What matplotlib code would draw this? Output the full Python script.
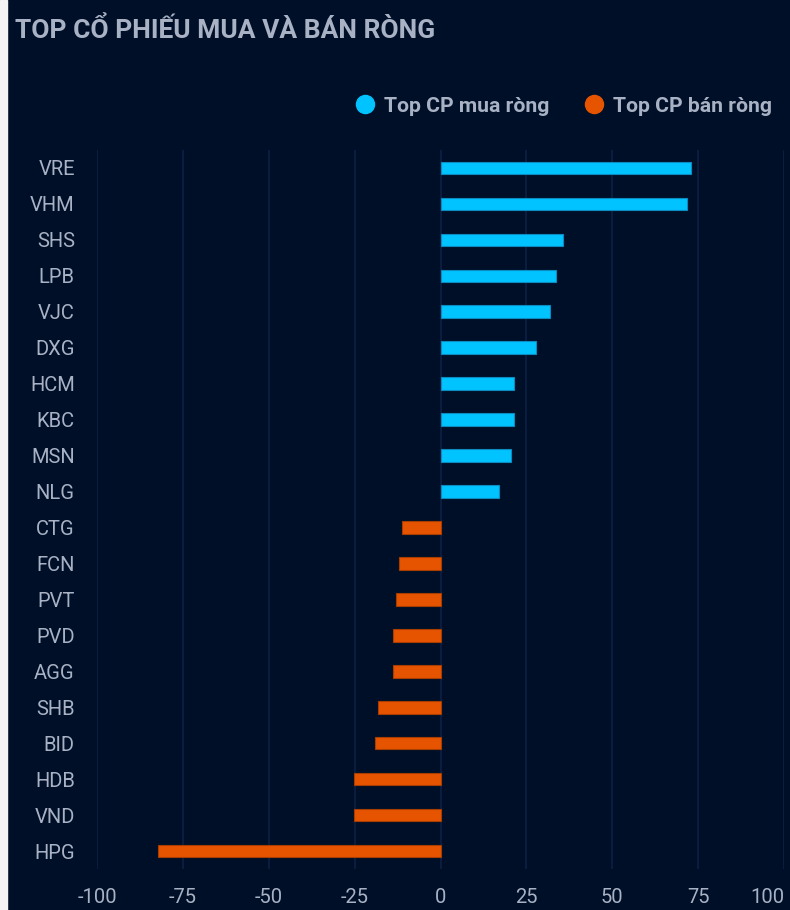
import matplotlib.pyplot as plt
from matplotlib.lines import Line2D
from matplotlib.patches import Rectangle

# data
buy_names = ['VRE', 'VHM', 'SHS', 'LPB', 'VJC', 'DXG', 'HCM', 'KBC', 'MSN', 'NLG']
buy_vals = [72.8, 71.7, 35.6, 33.7, 31.9, 27.7, 21.5, 21.5, 20.6, 16.9]
sell_names = ['CTG', 'FCN', 'PVT', 'PVD', 'AGG', 'SHB', 'BID', 'HDB', 'VND', 'HPG']
sell_vals = [-11.1, -12.1, -13.1, -13.9, -13.9, -18.2, -19.1, -25.3, -25.3, -82.3]
xticks = [-100, -75, -50, -25, 0, 25, 50, 75, 100]

bg = '#000f28'
txt = '#a9b2c4'
cyan = '#00c3ff'
orange = '#e65400'

plt.rcParams['font.family'] = ['Roboto', 'DejaVu Sans']

fig = plt.figure(figsize=(7.9, 9.1), dpi=100, facecolor=bg)
fig.patches.append(Rectangle((0, 0), 7/790, 1, transform=fig.transFigure,
                             color='#f4f4f4', zorder=0))

ax = fig.add_axes([97/790, 1-869/910, 687/790, 719/910])
ax.set_facecolor(bg)

names = buy_names + sell_names
n = len(names)
ypos = list(range(n))
ax.barh(ypos[:10], buy_vals, height=0.35, color=cyan, edgecolor='#0b8cc0', linewidth=0.8, zorder=3)
ax.barh(ypos[10:], sell_vals, height=0.35, color=orange, edgecolor='#a83d00', linewidth=0.8, zorder=3)

ax.set_ylim(n - 0.5, -0.5)
ax.set_xlim(-100, 100)
ax.set_yticks(ypos)
ax.set_yticklabels(names)
ax.set_xticks(xticks)
ax.set_xticklabels([str(v) for v in xticks])
ax.grid(axis='x', color='#0d2045', linewidth=1.2, zorder=0)
ax.set_axisbelow(True)
for s in ax.spines.values():
    s.set_visible(False)
ax.tick_params(axis='both', length=0, colors=txt, labelsize=14.5)
ax.tick_params(axis='y', pad=16)
ax.tick_params(axis='x', pad=14)
xl = ax.get_xticklabels()
xl[-1].set_horizontalalignment('right')

fig.text(15/790, 1-30/910, 'TOP CỔ PHIẾU MUA VÀ BÁN RÒNG', color=txt,
         fontsize=19, fontweight='bold', va='center', ha='left')

handles = [Line2D([], [], marker='o', linestyle='', markersize=13, color=cyan),
           Line2D([], [], marker='o', linestyle='', markersize=13, color=orange)]
leg = fig.legend(handles, ['Top CP mua ròng', 'Top CP bán ròng'], ncol=2,
                 loc='center right', bbox_to_anchor=(791/790, 1-106/910),
                 frameon=False, handletextpad=0.4, columnspacing=1.6,
                 prop={'size': 15.2, 'weight': 'bold'}, handlelength=1.0)
for t in leg.get_texts():
    t.set_color(txt)

fig.savefig('out.png', dpi=100, facecolor=bg)
